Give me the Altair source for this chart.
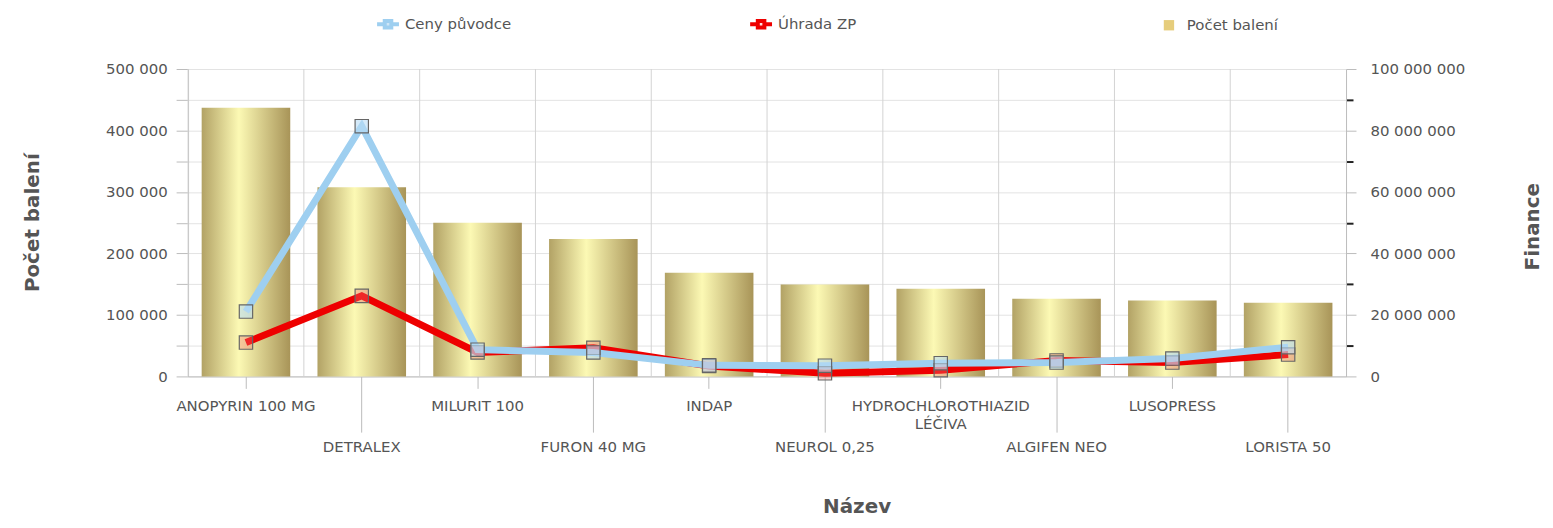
import altair as alt
import pandas as pd

cats = ["ANOPYRIN 100 MG", "DETRALEX", "MILURIT 100", "FURON 40 MG", "INDAP",
        "NEUROL 0,25", "HYDROCHLOROTHIAZID LÉČIVA", "ALGIFEN NEO", "LUSOPRESS", "LORISTA 50"]
pocet = [437000, 307500, 250000, 223500, 168500, 149500, 142500, 126500, 123500, 120000]
ceny = [21.1e6, 81.4e6, 8.7e6, 7.8e6, 3.6e6, 3.5e6, 4.3e6, 4.5e6, 5.8e6, 9.5e6]
uhrada = [11.0e6, 26.2e6, 7.8e6, 9.3e6, 3.4e6, 1.0e6, 2.0e6, 5.2e6, 4.5e6, 7.1e6]
series = ["Ceny původce", "Úhrada ZP", "Počet balení"]
series_colors = ["#9ecff0", "#ee0000", "#e6cd7c"]
left_ticks = list(range(0, 500001, 50000))
right_ticks = list(range(0, 100000001, 10000000))

df = pd.DataFrame({"cat": cats, "pocet": pocet, "ceny": ceny, "uhrada": uhrada})

odd_cats = cats[1::2]
odd_test = "indexof(" + str(odd_cats).replace("'", "\"") + ", datum.value) >= 0"

x_axis = alt.Axis(
    title="Název", labelAngle=0, labelOverlap=False, labelLimit=400,
    labelExpr="datum.label == 'HYDROCHLOROTHIAZID LÉČIVA' ? ['HYDROCHLOROTHIAZID', 'LÉČIVA'] : datum.label",
    tickSize={"condition": {"test": odd_test, "value": 56}, "value": 12},
    labelPadding={"condition": {"test": odd_test, "value": 7}, "value": 10},
    tickColor="#bbbbbb", domainColor="#bbbbbb", grid=False,
    labelLineHeight=18, labelBaseline="top",
    titleX=672, titleY=137, titleBaseline="alphabetic",
)
x_scale = alt.Scale(paddingInner=0, paddingOuter=0)
X = alt.X("cat:N", sort=cats, scale=x_scale, axis=x_axis)

LINE_SYM = "M-1,0H-0.3M0.3,0H1M-0.3,-0.3H0.3V0.3H-0.3Z"
SQ_SYM = "M-0.2,-0.2H0.2V0.2H-0.2Z"


def make_legend(x, sym, fill, sw):
    return alt.Legend(title=None, orient="none", legendX=x, legendY=-58,
                      direction="horizontal", symbolSize=484, symbolType=sym,
                      symbolFillColor=fill, symbolStrokeWidth=sw, labelOffset=4)


gradient = alt.LinearGradient(
    gradient="linear",
    stops=[alt.GradientStop(color="#b2a265", offset=0),
           alt.GradientStop(color="#fcf9b4", offset=0.42),
           alt.GradientStop(color="#a89458", offset=1)],
    x1=0, x2=1, y1=0, y2=0,
)

base = alt.Chart(df)

vgrid = base.mark_rule(color="#d3d3d3", strokeWidth=1).encode(
    x=alt.X("cat:N", sort=cats, scale=x_scale, axis=x_axis, bandPosition=0)
)

bars = base.mark_bar(fill=gradient, strokeWidth=0, width={"band": 0.765}).encode(
    x=X,
    y=alt.Y("pocet:Q", scale=alt.Scale(domain=[0, 500000], nice=False),
            axis=alt.Axis(
                title="Počet balení", values=left_ticks,
                labelExpr="datum.value % 100000 === 0 ? replace(format(datum.value, ','), ',', ' ') : ''",
                grid=True, gridColor="#e3e3e3", tickSize=12, labelPadding=9,
                tickColor="#bbbbbb", domainColor="#bbbbbb",
                titleX=-150, titleY=154, titleBaseline="alphabetic", titleAngle=270,
            )),
    stroke=alt.Stroke("s:N", scale=alt.Scale(domain=[series[2]], range=[series_colors[2]]),
                      legend=make_legend(972, SQ_SYM, series_colors[2], 6)),
).transform_calculate(s="'Počet balení'")

right_y_axis = alt.Axis(
    title="Finance", orient="right", values=right_ticks,
    labelExpr="datum.value % 20000000 === 0 ? replace(replace(format(datum.value, ','), ',', ' '), ',', ' ') : ''",
    grid=False,
    tickSize={"condition": {"test": "datum.value % 20000000 !== 0", "value": 7}, "value": 10},
    tickColor={"condition": {"test": "datum.value % 20000000 !== 0", "value": "#222222"}, "value": "#bbbbbb"},
    tickWidth={"condition": {"test": "datum.value % 20000000 !== 0", "value": 2}, "value": 1},
    labelPadding=14, domainColor="#bbbbbb",
    titleX=193, titleY=158, titleBaseline="alphabetic", titleAngle=270,
)
fin_scale = alt.Scale(domain=[0, 100000000], nice=False)

red_line = base.mark_line(strokeWidth=7).encode(
    x=X,
    y=alt.Y("uhrada:Q", scale=fin_scale, axis=right_y_axis),
    stroke=alt.Stroke("s:N", scale=alt.Scale(domain=[series[1]], range=[series_colors[1]]),
                      legend=make_legend(563, LINE_SYM, "#ffe0e0", 4)),
).transform_calculate(s="'Úhrada ZP'")

blue_line = base.mark_line(strokeWidth=7).encode(
    x=X,
    y=alt.Y("ceny:Q", scale=fin_scale, axis=right_y_axis),
    stroke=alt.Stroke("s:N", scale=alt.Scale(domain=[series[0]], range=[series_colors[0]]),
                      legend=make_legend(188, LINE_SYM, "#cfe6f7", 4)),
).transform_calculate(s="'Ceny původce'")

red_pts = base.mark_square(size=180, fill="#f07070", fillOpacity=0.35,
                           stroke="#666666", strokeWidth=1.2).encode(
    x=X, y=alt.Y("uhrada:Q", scale=fin_scale, axis=right_y_axis))

blue_pts = base.mark_square(size=180, fill="#b9dcf5", fillOpacity=0.6,
                            stroke="#666666", strokeWidth=1.2).encode(
    x=X, y=alt.Y("ceny:Q", scale=fin_scale, axis=right_y_axis))

left = alt.layer(vgrid, bars)
right = alt.layer(red_line, blue_line, red_pts, blue_pts).resolve_scale(stroke="independent")

chart = alt.layer(left, right).resolve_scale(y="independent", stroke="independent").properties(
    width=1164, height=309,
    autosize=alt.AutoSizeParams(type="none"),
    padding={"left": 181, "top": 60, "right": 200, "bottom": 143},
).configure_view(strokeWidth=0).configure_axis(
    labelFont="DejaVu Sans", labelFontSize=15, labelColor="#555555",
    titleFont="DejaVu Sans", titleFontSize=20, titleFontWeight="bold", titleColor="#555555",
).configure_legend(
    labelFont="DejaVu Sans", labelFontSize=15, labelColor="#555555",
)

chart.save("out.html", embed_options={"renderer": "svg", "actions": False})
